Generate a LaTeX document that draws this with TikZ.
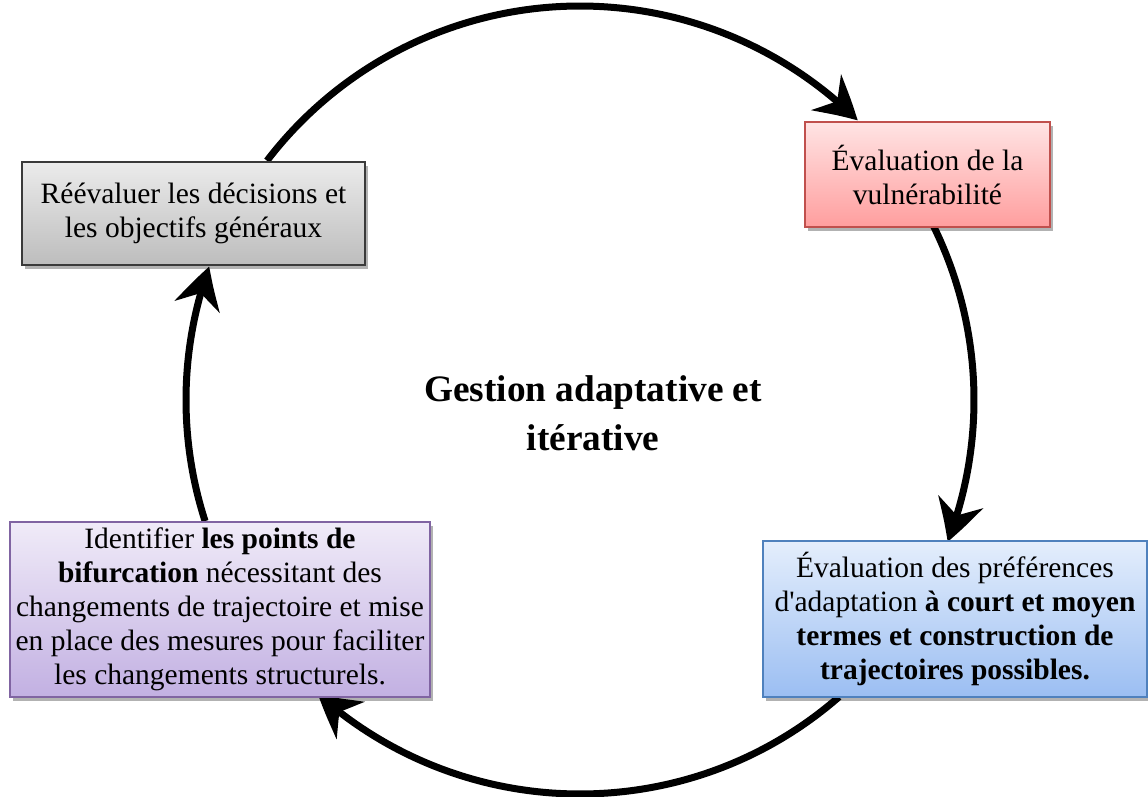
\documentclass[tikz,border=0pt]{standalone}
\usepackage{fontspec}
\setmainfont{Liberation Serif}
\usetikzlibrary{arrows.meta,bending,shadows,calc}
\definecolor{greyB}{HTML}{3A3A3A}
\definecolor{greyT}{HTML}{EBEBEB}
\definecolor{greyM}{HTML}{BDBDBD}
\definecolor{redB}{HTML}{C0504D}
\definecolor{redT}{HTML}{FFE4E4}
\definecolor{redM}{HTML}{FF9E9E}
\definecolor{purB}{HTML}{8064A2}
\definecolor{purT}{HTML}{F0EBF8}
\definecolor{purM}{HTML}{C2B0E2}
\definecolor{bluB}{HTML}{4F81BD}
\definecolor{bluT}{HTML}{E4EEFC}
\definecolor{bluM}{HTML}{9BBEF2}
\begin{document}
\begin{tikzpicture}[x=1pt,y=1pt,
  box/.style={rectangle, line width=1.3pt, align=center, inner sep=0pt,
    font=\fontsize{29.5}{34}\selectfont,
    drop shadow={shadow xshift=3pt,shadow yshift=-4pt,opacity=0.3,fill=black}},
  cyc/.style={line width=7pt, -{Stealth[length=42pt,width=46pt,inset=14pt,bend]}}]
\useasboundingbox (0,0) rectangle (1148,-796);
\coordinate (c) at (580,-400);
\coordinate (s1) at ($(c)+(142.6:394)$);
\coordinate (s2) at ($(c)+(26.1:394)$);
\coordinate (s3) at ($(c)+(-48.9:394)$);
\coordinate (s4) at ($(c)+(-162.1:394)$);
\draw[cyc] (s1) arc[start angle=142.6, end angle=45.2, radius=394pt];
\draw[cyc] (s2) arc[start angle=26.1, end angle=-21.1, radius=394pt];
\draw[cyc] (s3) arc[start angle=-48.9, end angle=-131.7, radius=394pt];
\draw[cyc] (s4) arc[start angle=-162.1, end angle=-199.8, radius=394pt];

\node[box, minimum width=343pt, minimum height=103pt, draw=greyB, top color=greyT, bottom color=greyM]
  (reeval) at (193.5,-213.5) {Réévaluer les décisions et\\les objectifs généraux};
\node[box, minimum width=245pt, minimum height=105pt, draw=redB, top color=redT, bottom color=redM]
  (vuln) at (927.5,-174.5) {Évaluation de la\\vulnérabilité};
\node[box, minimum width=420pt, minimum height=175pt, draw=purB, top color=purT, bottom color=purM]
  (bif) at (220,-609.5) {Identifier \textbf{les points de}\\\textbf{bifurcation} nécessitant des\\changements de trajectoire et mise\\en place des mesures pour faciliter\\les changements structurels.};
\node[box, minimum width=384pt, minimum height=156pt, draw=bluB, top color=bluT, bottom color=bluM]
  (pref) at (955,-619) {Évaluation des préférences\\d\textquotesingle adaptation \textbf{à court et moyen}\\\textbf{termes et construction de}\\\textbf{trajectoires possibles.}};
\node[font=\bfseries\fontsize{37.3}{49}\selectfont, align=center] (title) at (593,-413)
  {Gestion adaptative et\\itérative};
\end{tikzpicture}
\end{document}
